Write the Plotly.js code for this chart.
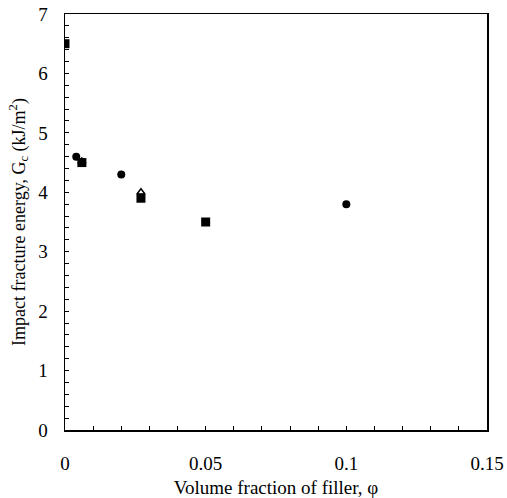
<!DOCTYPE html>
<html><head><meta charset="utf-8">
<script src="https://cdn.plot.ly/plotly-3.0.1.min.js"></script>
<style>body{margin:0;background:#fff}#c{width:507px;height:498px}</style>
</head><body><div id="c"></div>
<script>
const squareX = [0, 0.006, 0.027, 0.05];
const squareY = [6.5, 4.5, 3.9, 3.5];
const circleX = [0.004, 0.02, 0.1];
const circleY = [4.6, 4.3, 3.8];
const triangleX = [0.006, 0.027];
const triangleY = [4.52, 4.0];
const xTickVals = [0, 0.05, 0.1, 0.15];
const xTickText = ['0', '0.05', '0.1', '0.15'];

const fam = 'Liberation Serif, Times New Roman, serif';
const font = {family: fam, size: 19, color: '#000'};
const yTitleFont = {family: fam, size: 18, color: '#000'};
const data = [
  {x: squareX, y: squareY, mode: 'markers', type: 'scatter',
   marker: {symbol: 'square', size: 9, color: '#000'}},
  {x: circleX, y: circleY, mode: 'markers', type: 'scatter',
   marker: {symbol: 'circle', size: 8, color: '#000'}},
  {x: triangleX, y: triangleY, mode: 'markers', type: 'scatter',
   marker: {symbol: 'triangle-up-open', size: 7, color: '#000', line: {width: 1.5}}}
];
const layout = {
  width: 507, height: 498,
  margin: {l: 65, r: 20, t: 14, b: 68},
  showlegend: false,
  paper_bgcolor: '#fff', plot_bgcolor: '#fff',
  font: font,
  xaxis: {
    range: [0, 0.15], tickvals: xTickVals, ticktext: xTickText,
    showgrid: false, zeroline: false, showline: true, linecolor: '#000', linewidth: 1.5, mirror: true,
    ticks: 'inside', ticklen: 4, tickcolor: '#000', ticklabelstandoff: 16,
    minor: {dtick: 0.01, ticks: 'inside', ticklen: 4, tickcolor: '#000', showgrid: false},
    title: {text: 'Volume fraction of filler, φ', font: font, standoff: 10}
  },
  yaxis: {
    range: [0, 7], dtick: 1,
    showgrid: false, zeroline: false, showline: true, linecolor: '#000', linewidth: 1.5, mirror: true,
    ticks: 'inside', ticklen: 4, tickcolor: '#000', ticklabelstandoff: 12,
    minor: {dtick: 0.2, ticks: 'inside', ticklen: 4, tickcolor: '#000', showgrid: false},
    title: {text: 'Impact fracture energy, G<sub>c</sub> (kJ/m<sup>2</sup>)', font: yTitleFont, standoff: 8}
  }
};
Plotly.newPlot('c', data, layout, {displayModeBar: false, staticPlot: true});
</script></body></html>
